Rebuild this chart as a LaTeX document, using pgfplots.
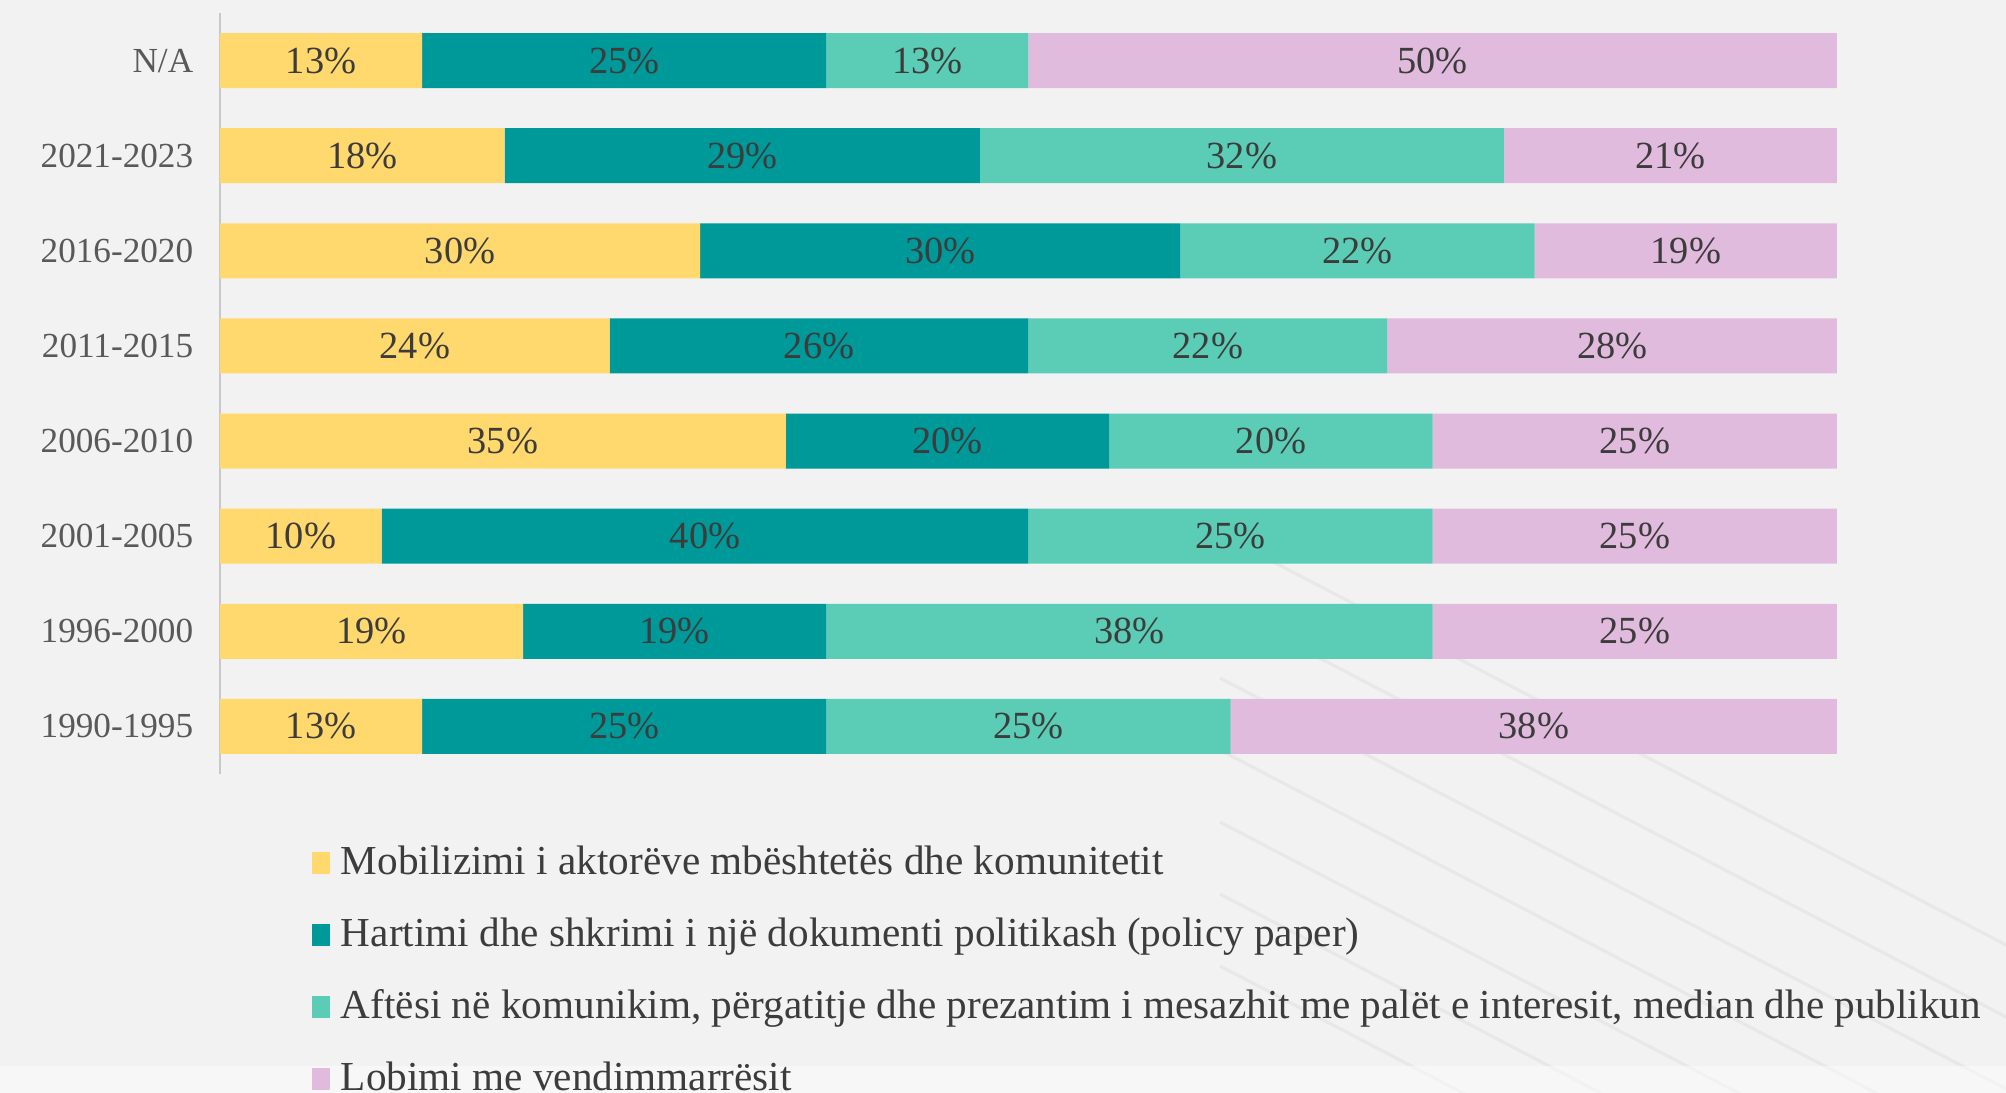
\documentclass[border=0pt]{standalone}
\usepackage{pgfplots}
\pgfplotsset{compat=1.18}
\usepackage{pgfplotstable}
\usepackage{fontspec}
\setmainfont{Liberation Serif}
\definecolor{bg}{HTML}{F2F2F2}
\definecolor{cyel}{HTML}{FFD96E}
\definecolor{cteal}{HTML}{009999}
\definecolor{cmint}{HTML}{5BCDB6}
\definecolor{cpink}{HTML}{E1BBDD}
\definecolor{txt}{HTML}{3C3C3C}
\definecolor{cat}{HTML}{595959}
\definecolor{deco}{HTML}{E8E8E8}
\definecolor{axgray}{HTML}{C8C8C8}

\pgfplotstableread{
y a b c d
0 12.5 25.0 25.0 37.5
1 18.75 18.75 37.5 25.0
2 10.0 40.0 25.0 25.0
3 35.0 20.0 20.0 25.0
4 24.1 25.9 22.2 27.8
5 29.7 29.7 21.9 18.7
6 17.6 29.4 32.4 20.6
7 12.5 25.0 12.5 50.0
}\data

\pgfplotstableread{
y x lab
0 6.25 13
0 25.0 25
0 50.0 25
0 81.25 38
1 9.375 19
1 28.125 19
1 56.25 38
1 87.5 25
2 5.0 10
2 30.0 40
2 62.5 25
2 87.5 25
3 17.5 35
3 45.0 20
3 65.0 20
3 87.5 25
4 12.05 24
4 37.05 26
4 61.1 22
4 86.1 28
5 14.85 30
5 44.55 30
5 70.35 22
5 90.65 19
6 8.8 18
6 32.3 29
6 63.2 32
6 89.7 21
7 6.25 13
7 25.0 25
7 43.75 13
7 75.0 50
}\labels

\begin{document}
\begin{tikzpicture}
\path[use as bounding box] (-55pt,-79.75pt) rectangle (446.5pt,193.5pt);
\clip (-55pt,-79.75pt) rectangle (446.5pt,193.5pt);
\fill[bg] (-55pt,-79.75pt) rectangle (446.5pt,193.5pt);
% faint background decoration
\begin{scope}[deco, line width=0.8pt]
\foreach \s in {0,18,36,54,72,90,108}{
  \draw (250pt,{60pt-\s*1pt}) -- (470pt,{-55pt-\s*1pt});
}
\end{scope}
\fill[white, opacity=0.45] (-55pt,-79.75pt) rectangle (446.5pt,-73pt);

\begin{axis}[
  at={(0,0)}, anchor=south west,
  scale only axis,
  width=404.25pt, height=190.25pt,
  xbar stacked,
  bar width=13.75pt,
  xmin=0, xmax=100,
  ymin=-0.5, ymax=7.5,
  axis x line=none,
  axis y line*=left,
  y axis line style={-, draw=axgray, line width=0.6pt},
  xtick=\empty,
  ytick={0,...,7},
  yticklabels={1990-1995,1996-2000,2001-2005,2006-2010,2011-2015,2016-2020,2021-2023,N/A},
  ytick style={draw=none},
  y tick label style={font=\fontsize{8.8}{10}\selectfont, text=cat, inner sep=0pt, xshift=-6.5pt},
  legend cell align=left,
  legend style={at={(axis description cs:0.0569,-0.0925)}, anchor=north west,
    draw=none, fill=none, inner sep=0pt, outer sep=0pt,
    font=\fontsize{10.3}{12}\selectfont, text=txt,
    nodes={inner sep=0pt, text height=7.5pt, text depth=2pt},
    row sep=8.5pt, column sep=2.75pt},
  legend image code/.code={\fill[#1] (0pt,-2.75pt) rectangle (4.5pt,2.75pt);},
]
\addplot[fill=cyel, draw=none] table[x=a, y=y] {\data};
\addplot[fill=cteal, draw=none] table[x=b, y=y] {\data};
\addplot[fill=cmint, draw=none] table[x=c, y=y] {\data};
\addplot[fill=cpink, draw=none] table[x=d, y=y] {\data};
\legend{Mobilizimi i aktorëve mbështetës dhe komunitetit,
Hartimi dhe shkrimi i një dokumenti politikash (policy paper),
{Aftësi në komunikim, përgatitje dhe prezantim i mesazhit me palët e interesit, median dhe publikun},
Lobimi me vendimmarrësit}
\end{axis}

\begin{axis}[
  at={(0,0)}, anchor=south west,
  scale only axis,
  width=404.25pt, height=190.25pt,
  xmin=0, xmax=100,
  ymin=-0.5, ymax=7.5,
  hide axis,
]
\addplot[draw=none, mark=none, nodes near coords={\pgfplotspointmeta\%},
  point meta=explicit symbolic,
  every node near coord/.style={anchor=center, text=txt, font=\fontsize{9.6}{11}\selectfont, inner sep=0pt}]
  table[x=x, y=y, meta=lab] {\labels};
\end{axis}
\end{tikzpicture}
\end{document}
